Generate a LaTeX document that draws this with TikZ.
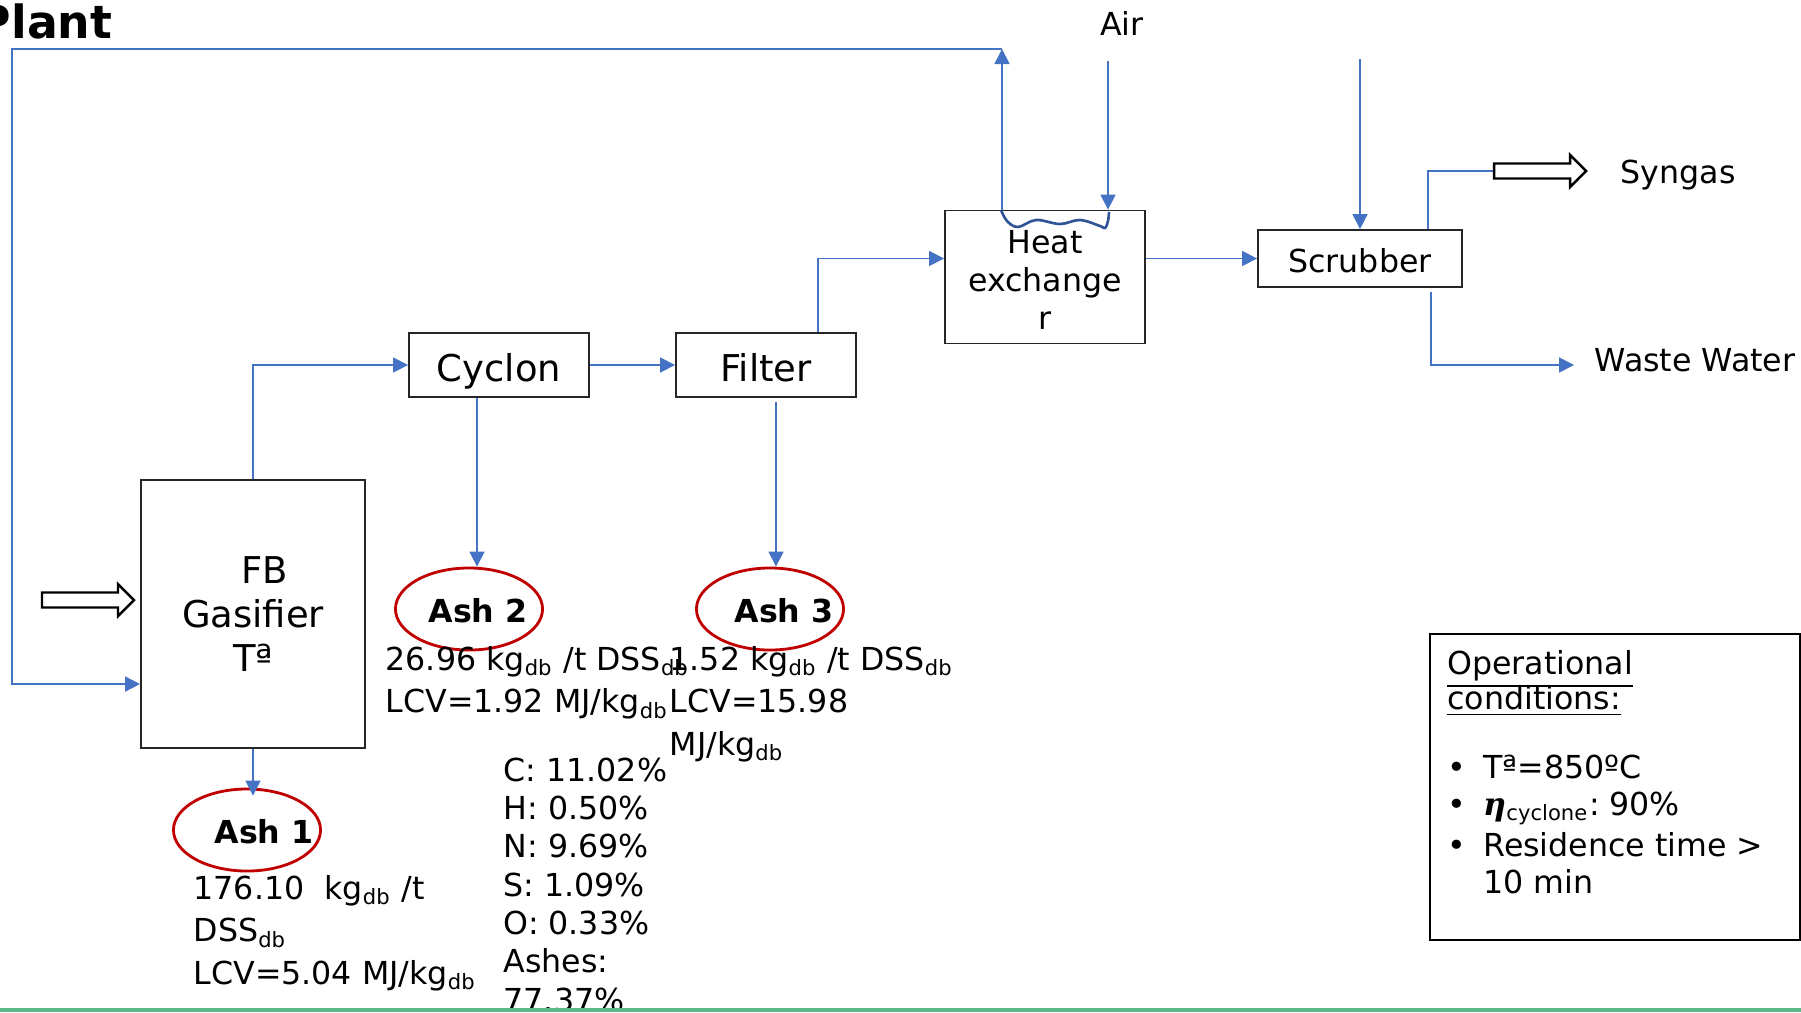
\documentclass[tikz,border=0pt]{standalone}
\usepackage{fontspec}
\setmainfont{DejaVu Sans}
\newfontfamily\etafont{DejaVu Serif}
\usetikzlibrary{arrows.meta,shapes.geometric}

\definecolor{flowblue}{HTML}{4472C4}
\definecolor{wavyblue}{HTML}{2F5597}
\definecolor{ashred}{HTML}{C00000}
\definecolor{bargreen}{HTML}{5DB88A}

\newcommand{\db}{\textsubscript{db}}
\newcommand{\bul}{\makebox[0.36cm][l]{•}}
\newcommand{\condfont}{\fontsize{9}{9.9}\selectfont\lineskiplimit=-10pt\relax}
\newcommand{\hollowarrow}[1]{\draw[hollow] #1 ++(0,-7.5) -- ++(76,0) -- ++(0,-8.5) -- ++(16,16) -- ++(-16,16) -- ++(0,-8.5) -- ++(-76,0) -- cycle;}

\tikzset{
  unit/.style={draw=black!85, line width=0.5pt, inner sep=0pt},
  flow/.style={draw=flowblue, line width=0.45pt, -{Triangle[length=0.15cm,width=0.15cm]}},
  pipe/.style={draw=flowblue, line width=0.45pt},
  ash/.style={ellipse, draw=ashred, line width=0.8pt, minimum width=1.47cm, minimum height=0.82cm, inner sep=0pt},
  ashtxt/.style={font=\bfseries\fontsize{9}{11}\selectfont, inner sep=0pt, yshift=-0.02cm},
  data/.style={anchor=north west, align=left, inner sep=0pt, font=\fontsize{9}{12}\selectfont},
  hollow/.style={draw=black, line width=0.7pt, fill=white},
}

\begin{document}
\frenchspacing
\begin{tikzpicture}[x=0.01cm, y=-0.01cm]
\useasboundingbox (0,0) rectangle (1801,1012);

% title
\node[anchor=base east, inner sep=0pt, font=\bfseries\fontsize{13}{15}\selectfont] (title) at (113,38) {Plant};

% process units
\node[unit, minimum width=2.24cm, minimum height=2.68cm, align=center, font=\fontsize{10.5}{12.5}\selectfont] (gas) at (253,614) {\hspace*{0.23cm}FB\\Gasifier\\Tª};
\node[unit, minimum width=1.80cm, minimum height=0.64cm, text height=0.32cm, text depth=0cm, font=\fontsize{10.5}{12.5}\selectfont] (cyc) at (499,365) {Cyclon};
\node[unit, minimum width=1.80cm, minimum height=0.64cm, text height=0.32cm, text depth=0cm, font=\fontsize{10.5}{12.5}\selectfont] (fil) at (766,365) {Filter};
\node[unit, minimum width=2.00cm, minimum height=1.33cm, label={[align=center, inner sep=0pt, yshift=-0.03cm, font=\fontsize{9}{10.9}\selectfont]center:{Heat\\exchange\\r}}] (hx) at (1045,277) {};
\node[unit, minimum width=2.04cm, minimum height=0.57cm, text height=0.27cm, text depth=0cm, font=\fontsize{9}{11}\selectfont] (scr) at (1360,258.5) {Scrubber};

% ash outlets
\node[ash, label={[ashtxt, xshift=0.17cm]center:Ash 1}] (ash1) at (247,830) {};
\node[ash, label={[ashtxt, xshift=0.09cm]center:Ash 2}] (ash2) at (469,609) {};
\node[ash, label={[ashtxt, xshift=0.14cm]center:Ash 3}] (ash3) at (770,609) {};

% free ends
\coordinate (recup) at (1002,49);
\coordinate (recleft) at (12,49);
\coordinate (airin) at (1108,61);
\coordinate (watin) at (1360,59);
\coordinate (synout) at (1494,171);
\coordinate (wwout) at (1574,365);
\coordinate (feedin) at (42,600);
\coordinate (cycout) at ([xshift=-0.22cm]cyc.south);
\coordinate (filout) at ([xshift=0.1cm,yshift=-0.04cm]fil.south);
\coordinate (filtop) at ([xshift=0.52cm]fil.north);
\coordinate (gasout) at ([yshift=-0.08cm]gas.south |- ash1.north);

% streams
\draw[flow] (gas.north) |- (cyc.west);
\draw[flow] (cyc.east) -- (fil.west);
\draw[flow] (filtop) |- (hx.west |- scr.west);
\draw[flow] (hx.east |- scr.west) -- (scr.west);
\draw[flow] (cycout) -- (cycout |- ash2.north);
\draw[flow] (filout) -- (filout |- ash3.north);
\draw[flow] (gas.south) -- (gasout);
\draw[flow] (recup |- hx.north) -- (recup);
\draw[flow] (recup) -- (recleft) |- ([yshift=-0.70cm]gas.west);
\draw[flow] (airin) -- (airin |- hx.north);
\draw[flow] (watin) -- (scr.north);
\draw[pipe] ([xshift=0.68cm]scr.north) |- (synout);
\draw[flow] ([xshift=0.71cm,yshift=-0.04cm]scr.south) |- (wwout);

% heat exchanger coil
\draw[wavyblue, line width=0.75pt] plot[smooth, tension=0.6] coordinates {(1001,210) (1007,221) (1018,227) (1036,220) (1060,224) (1080,220) (1100,226) (1105,228) (1108,221) (1109,212)};

% big arrows
\hollowarrow{(feedin)}
\hollowarrow{(synout)}

% labels
\node[anchor=base, inner sep=0pt, font=\fontsize{9}{11}\selectfont] (airlbl) at (1122,35) {Air};
\node[anchor=base west, inner sep=0pt, font=\fontsize{9}{11}\selectfont] (synlbl) at (1620,183) {Syngas};
\node[anchor=base west, inner sep=0pt, font=\fontsize{9}{11}\selectfont] (wwlbl) at (1594,371) {Waste Water};

% ash data
\node[data] (ash1d) at (193,875) {176.10~~kg\db{} /t\\DSS\db\\LCV=5.04 MJ/kg\db};
\node[data] (ash2d) at (385,646) {26.96 kg\db{} /t DSS\db\\LCV=1.92 MJ/kg\db};
\node[data] (ash3d) at (669,646) {1.52 kg\db{} /t DSS\db\\LCV=15.98\\MJ/kg\db};
\node[data, font=\fontsize{9}{10.9}\selectfont] (comp) at (503,757) {C: 11.02\%\\H: 0.50\%\\N: 9.69\%\\S: 1.09\%\\O: 0.33\%\\Ashes:\\77.37\%};

% operational conditions
\node[draw=black, line width=0.7pt, minimum width=3.70cm, minimum height=3.06cm, inner sep=0pt] (cond) at (1615,787) {};
\node[data, font=\condfont] (condtxt) at ([xshift=0.18cm,yshift=-0.17cm]cond.north west) {\underline{Operational}\\\underline{conditions:}\\[0.34cm]\bul Tª=850ºC\\[0.025cm]\bul{\etafont\bfseries\itshape η}\textsubscript{cyclone}: 90\%\\[0.06cm]\bul Residence time >\\[0.02cm]\hspace*{0.36cm}10 min};

% bottom rule
\draw[bargreen, line width=0.04cm] (0,1010) -- (1801,1010);
\end{tikzpicture}
\end{document}
